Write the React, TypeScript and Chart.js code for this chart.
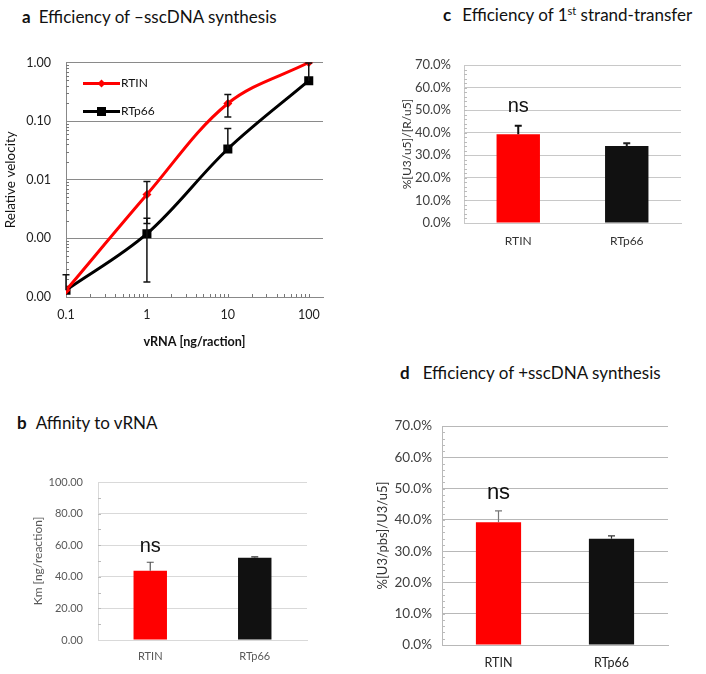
import React, { useEffect, useRef } from "react";
import { Chart, registerables } from "chart.js";

Chart.register(...registerables);

const FONT = "Lato, 'Open Sans', sans-serif";
const NS_FONT = "'Liberation Sans', Arial, sans-serif";

// panel a: -sscDNA synthesis (log/log)
const vrnaAmounts = [0.1, 1, 10, 100];
const rtinVelocity = [0.00013, 0.0056, 0.2, 1.0];
const rtinVelocityHigh = [null, 0.0093, 0.284, null];
const rtinVelocityLow = [null, 0.0018, 0.118, null];
const rtp66Velocity = [0.00013, 0.0012, 0.0335, 0.49];
const rtp66VelocityHigh = [0.00024, 0.0022, 0.075, 0.98];
const rtp66VelocityLow = [null, 0.00018, null, null];
const xDecades = [0.1, 1, 10, 100];
const yDecades = [0.0001, 0.001, 0.01, 0.1, 1];

// panels b, c, d: bar charts
const enzymes = ["RTIN", "RTp66"];
const kmValues = [43.9, 52.1];
const kmErrors = [5.3, 0.5];
const transferValues = [39.3, 34.1];
const transferErrors = [3.8, 1.2];
const plusValues = [39.2, 34.0];
const plusErrors = [3.7, 0.9];

const barColors = ["#ff0000", "#111111"];

type Box = { left: number; top: number; right: number; bottom: number };

const logMinors = (decades: number[]) => {
  const out: number[] = [];
  decades.slice(0, -1).forEach((d) => {
    for (let k = 2; k <= 9; k++) out.push(d * k);
  });
  return out;
};

const minorTickPlugin = (xVals: number[], yVals: number[], color: string, len: number) => ({
  id: "minorTicks",
  beforeDatasetsDraw(chart: any) {
    const { ctx, chartArea, scales } = chart;
    ctx.save();
    ctx.strokeStyle = color;
    ctx.lineWidth = 1;
    ctx.beginPath();
    xVals.forEach((v) => {
      const x = Math.round(scales.x.getPixelForValue(v)) + 0.5;
      ctx.moveTo(x, chartArea.bottom);
      ctx.lineTo(x, chartArea.bottom - len);
    });
    yVals.forEach((v) => {
      const y = Math.round(scales.y.getPixelForValue(v)) + 0.5;
      ctx.moveTo(chartArea.left, y);
      ctx.lineTo(chartArea.left + len, y);
    });
    ctx.stroke();
    ctx.restore();
  },
});

type ErrSpec = {
  datasetIndex: number;
  high: (number | null)[];
  low?: (number | null)[];
  colors: string[];
  width: number;
  cap: number;
};

const errorBarPlugin = (specs: ErrSpec[]) => ({
  id: "errorBars",
  afterDatasetsDraw(chart: any) {
    const ctx = chart.ctx;
    const yScale = chart.scales.y;
    specs.forEach((spec) => {
      const meta = chart.getDatasetMeta(spec.datasetIndex);
      meta.data.forEach((el: any, i: number) => {
        const hi = spec.high[i];
        const lo = spec.low ? spec.low[i] : null;
        if (hi == null && lo == null) return;
        const x = el.x;
        const yTop = hi != null ? yScale.getPixelForValue(hi) : el.y;
        const yBot = lo != null ? yScale.getPixelForValue(lo) : el.y;
        ctx.save();
        ctx.strokeStyle = spec.colors[i % spec.colors.length];
        ctx.lineWidth = spec.width;
        ctx.beginPath();
        ctx.moveTo(x, yTop);
        ctx.lineTo(x, yBot);
        if (hi != null) {
          ctx.moveTo(x - spec.cap, yTop);
          ctx.lineTo(x + spec.cap, yTop);
        }
        if (lo != null) {
          ctx.moveTo(x - spec.cap, yBot);
          ctx.lineTo(x + spec.cap, yBot);
        }
        ctx.stroke();
        ctx.restore();
      });
    });
  },
});

const nsPlugin = (index: number, value: number, size: number) => ({
  id: "nsLabel",
  afterDraw(chart: any) {
    const { ctx } = chart;
    const el = chart.getDatasetMeta(0).data[index];
    const y = chart.scales.y.getPixelForValue(value);
    ctx.save();
    ctx.font = `${size}px ${NS_FONT}`;
    ctx.fillStyle = "#111";
    ctx.textAlign = "center";
    ctx.textBaseline = "middle";
    ctx.fillText("ns", el.x, y);
    ctx.restore();
  },
});

const inlineLegendPlugin = {
  id: "inlineLegend",
  afterDraw(chart: any) {
    const { ctx, chartArea } = chart;
    chart.data.datasets.forEach((ds: any, i: number) => {
      const y = chartArea.top + 21 + i * 28;
      const x0 = chartArea.left + 17;
      const x1 = x0 + 37;
      const xm = (x0 + x1) / 2;
      ctx.save();
      ctx.strokeStyle = ds.borderColor;
      ctx.fillStyle = ds.borderColor;
      ctx.lineWidth = 3;
      ctx.beginPath();
      ctx.moveTo(x0, y);
      ctx.lineTo(x1, y);
      ctx.stroke();
      ctx.beginPath();
      if (ds.pointStyle === "rectRot") {
        ctx.moveTo(xm, y - 4);
        ctx.lineTo(xm + 4, y);
        ctx.lineTo(xm, y + 4);
        ctx.lineTo(xm - 4, y);
        ctx.closePath();
      } else {
        ctx.rect(xm - 4.5, y - 4.5, 9, 9);
      }
      ctx.fill();
      ctx.font = `12px ${FONT}`;
      ctx.fillStyle = "#111";
      ctx.textAlign = "left";
      ctx.textBaseline = "middle";
      ctx.fillText(ds.label, x1 + 1, y);
      ctx.restore();
    });
  },
};

const LinePanel: React.FC<{ left: number; top: number; width: number; height: number; area: Box }> = ({
  left,
  top,
  width,
  height,
  area,
}) => {
  const canvasRef = useRef<HTMLCanvasElement | null>(null);

  useEffect(() => {
    if (!canvasRef.current) return;
    const yWidth = area.left - left;
    const xHeight = top + height - area.bottom;
    const chart = new Chart(canvasRef.current, {
      type: "line",
      data: {
        datasets: [
          {
            label: "RTIN",
            data: vrnaAmounts.map((x, i) => ({ x, y: rtinVelocity[i] })),
            borderColor: "#ff0000",
            backgroundColor: "#ff0000",
            borderWidth: 3,
            pointStyle: "rectRot",
            pointRadius: 4.5,
            pointBorderWidth: 0,
            tension: 0.35,
          },
          {
            label: "RTp66",
            data: vrnaAmounts.map((x, i) => ({ x, y: rtp66Velocity[i] })),
            borderColor: "#000000",
            backgroundColor: "#000000",
            borderWidth: 3,
            pointStyle: "rect",
            pointRadius: 6.4,
            pointBorderWidth: 0,
            tension: 0.35,
          },
        ],
      },
      options: {
        responsive: true,
        maintainAspectRatio: false,
        animation: false,
        layout: { padding: { top: area.top - top, right: left + width - area.right, left: 0, bottom: 0 } },
        plugins: { legend: { display: false }, tooltip: { enabled: false } },
        scales: {
          x: {
            type: "logarithmic",
            min: 0.1,
            max: 150,
            afterBuildTicks: (s: any) => {
              s.ticks = xDecades.map((value) => ({ value }));
            },
            afterFit: (s: any) => {
              s.height = xHeight;
            },
            grid: { display: false, drawTicks: false },
            border: { color: "#888", width: 1 },
            ticks: {
              padding: 10,
              color: "#222",
              font: { family: FONT, size: 12.5 },
              callback: (v: any) => String(v),
            },
            title: {
              display: true,
              text: "vRNA [ng/raction]",
              color: "#111",
              font: { family: FONT, size: 12.6, weight: "bold" },
              padding: { top: 0, bottom: 11 },
            },
          },
          y: {
            type: "logarithmic",
            min: 0.0001,
            max: 1,
            afterBuildTicks: (s: any) => {
              s.ticks = yDecades.map((value) => ({ value }));
            },
            afterFit: (s: any) => {
              s.width = yWidth;
            },
            grid: { color: "#8a8a8a", drawTicks: false },
            border: { color: "#888", width: 1 },
            ticks: {
              padding: 15,
              color: "#222",
              font: { family: FONT, size: 12.5 },
              callback: (v: any) => Number(v).toFixed(2),
            },
            title: {
              display: true,
              text: "Relative velocity",
              color: "#111",
              font: { family: FONT, size: 13.5 },
              padding: { top: 3, bottom: 0 },
            },
          },
        },
      },
      plugins: [
        minorTickPlugin([...logMinors([0.1, 1, 10, 100]), 1, 10, 100], logMinors(yDecades), "#777", 3),
        errorBarPlugin([
          { datasetIndex: 0, high: rtinVelocityHigh, low: rtinVelocityLow, colors: ["#111"], width: 1.5, cap: 3.5 },
          { datasetIndex: 1, high: rtp66VelocityHigh, low: rtp66VelocityLow, colors: ["#111"], width: 1.5, cap: 3.5 },
        ]),
        inlineLegendPlugin,
      ],
    });
    return () => chart.destroy();
  }, []);

  return (
    <div style={{ position: "absolute", left, top, width, height }}>
      <canvas ref={canvasRef} />
    </div>
  );
};

type BarPanelProps = {
  left: number;
  top: number;
  width: number;
  height: number;
  area: Box;
  values: number[];
  errors: number[];
  errorColors: string[];
  errorWidth: number;
  barPct: number;
  yMax: number;
  yStep: number;
  minorStep: number;
  format: (v: number) => string;
  tickSize: number;
  tickColor: string;
  tickPadding: number;
  yTitle: string;
  yTitleSize: number;
  yTitlePad: number;
  yTitleColor: string;
  xSize: number;
  xColor: string;
  xPadding: number;
  gridColor: string;
  nsValue: number;
  nsSize: number;
};

const BarPanel: React.FC<BarPanelProps> = (p) => {
  const canvasRef = useRef<HTMLCanvasElement | null>(null);

  useEffect(() => {
    if (!canvasRef.current) return;
    const yWidth = p.area.left - p.left;
    const xHeight = p.top + p.height - p.area.bottom;
    const minors: number[] = [];
    for (let v = p.minorStep; v < p.yMax; v += p.minorStep) minors.push(v);
    const chart = new Chart(canvasRef.current, {
      type: "bar",
      data: {
        labels: enzymes,
        datasets: [
          {
            data: p.values,
            backgroundColor: barColors,
            borderWidth: 0,
            categoryPercentage: 1,
            barPercentage: p.barPct,
          },
        ],
      },
      options: {
        responsive: true,
        maintainAspectRatio: false,
        animation: false,
        layout: {
          padding: { top: p.area.top - p.top, right: p.left + p.width - p.area.right, left: 0, bottom: 0 },
        },
        plugins: { legend: { display: false }, tooltip: { enabled: false } },
        scales: {
          x: {
            afterFit: (s: any) => {
              s.height = xHeight;
            },
            grid: { display: false, drawTicks: false },
            border: { color: p.gridColor, width: 1 },
            ticks: { padding: p.xPadding, color: p.xColor, font: { family: FONT, size: p.xSize } },
          },
          y: {
            min: 0,
            max: p.yMax,
            afterFit: (s: any) => {
              s.width = yWidth;
            },
            grid: { color: p.gridColor, drawTicks: false },
            border: { color: p.gridColor, width: 1 },
            ticks: {
              stepSize: p.yStep,
              padding: p.tickPadding,
              color: p.tickColor,
              font: { family: FONT, size: p.tickSize },
              callback: (v: any) => p.format(Number(v)),
            },
            title: {
              display: true,
              text: p.yTitle,
              color: p.yTitleColor,
              font: { family: FONT, size: p.yTitleSize },
              padding: { top: p.yTitlePad, bottom: 0 },
            },
          },
        },
      },
      plugins: [
        minorTickPlugin([], minors, "#bbb", 3),
        errorBarPlugin([
          {
            datasetIndex: 0,
            high: p.values.map((v, i) => v + p.errors[i]),
            colors: p.errorColors,
            width: p.errorWidth,
            cap: 3.5,
          },
        ]),
        nsPlugin(0, p.nsValue, p.nsSize),
      ],
    });
    return () => chart.destroy();
  }, []);

  return (
    <div style={{ position: "absolute", left: p.left, top: p.top, width: p.width, height: p.height }}>
      <canvas ref={canvasRef} />
    </div>
  );
};

const PanelTitle: React.FC<{ letter: string; left: number; top: number; gap: number; children: React.ReactNode }> = ({
  letter,
  left,
  top,
  gap,
  children,
}) => (
  <div
    style={{
      position: "absolute",
      left,
      top,
      fontFamily: FONT,
      fontSize: 17,
      lineHeight: "20px",
      color: "#111",
      whiteSpace: "nowrap",
    }}
  >
    <b>{letter}</b>
    <span style={{ marginLeft: gap }}>{children}</span>
  </div>
);

const pct = (v: number) => v.toFixed(1) + "%";

export default function App() {
  return (
    <div
      style={{
        position: "fixed",
        left: 0,
        top: 0,
        width: 706,
        height: 674,
        background: "#fff",
        overflow: "hidden",
      }}
    >
      <PanelTitle letter="a" left={22} top={7} gap={8}>
        Efficiency of –sscDNA synthesis
      </PanelTitle>
      <PanelTitle letter="c" left={443} top={5} gap={11}>
        Efficiency of 1
        <span style={{ fontSize: 11, position: "relative", top: -6 }}>st</span> strand-transfer
      </PanelTitle>
      <PanelTitle letter="b" left={17} top={413} gap={9}>
        Affinity to vRNA
      </PanelTitle>
      <PanelTitle letter="d" left={400} top={363} gap={13}>
        Efficiency of +sscDNA synthesis
      </PanelTitle>

      <LinePanel left={0} top={40} width={345} height={320} area={{ left: 66, top: 62, right: 323, bottom: 297 }} />

      <BarPanel
        left={0}
        top={450}
        width={345}
        height={224}
        area={{ left: 98, top: 482, right: 307, bottom: 640 }}
        values={kmValues}
        errors={kmErrors}
        errorColors={["#555", "#333"]}
        errorWidth={1.2}
        barPct={0.32}
        yMax={100}
        yStep={20}
        minorStep={10}
        format={(v) => v.toFixed(2)}
        tickSize={11}
        tickColor="#595959"
        tickPadding={15}
        yTitle="Km [ng/reaction]"
        yTitleSize={12}
        yTitlePad={31}
        yTitleColor="#595959"
        xSize={11}
        xColor="#595959"
        xPadding={10}
        gridColor="#d9d9d9"
        nsValue={58.9}
        nsSize={20}
      />

      <BarPanel
        left={360}
        top={40}
        width={346}
        height={230}
        area={{ left: 464, top: 65, right: 681, bottom: 223 }}
        values={transferValues}
        errors={transferErrors}
        errorColors={["#111", "#222"]}
        errorWidth={2}
        barPct={0.4}
        yMax={70}
        yStep={10}
        minorStep={2}
        format={pct}
        tickSize={13}
        tickColor="#404040"
        tickPadding={13}
        yTitle="%[U3/u5]/[R/u5]"
        yTitleSize={12}
        yTitlePad={40}
        yTitleColor="#333"
        xSize={12}
        xColor="#333"
        xPadding={11}
        gridColor="#c8c8c8"
        nsValue={51.4}
        nsSize={20}
      />

      <BarPanel
        left={360}
        top={400}
        width={346}
        height={274}
        area={{ left: 442, top: 426, right: 668, bottom: 645 }}
        values={plusValues}
        errors={plusErrors}
        errorColors={["#777", "#333"]}
        errorWidth={1.2}
        barPct={0.4}
        yMax={70}
        yStep={10}
        minorStep={2}
        format={pct}
        tickSize={13.5}
        tickColor="#404040"
        tickPadding={10}
        yTitle="%[U3/pbs]/U3/u5]"
        yTitleSize={13}
        yTitlePad={15}
        yTitleColor="#333"
        xSize={12.5}
        xColor="#222"
        xPadding={10}
        gridColor="#b8b8b8"
        nsValue={48.6}
        nsSize={22}
      />
    </div>
  );
}
